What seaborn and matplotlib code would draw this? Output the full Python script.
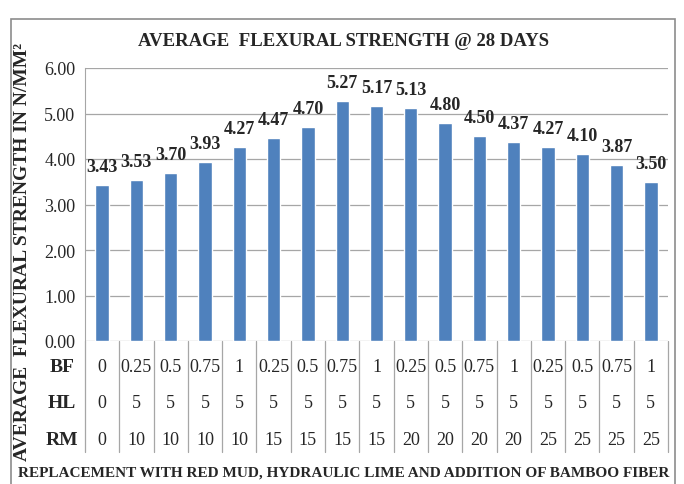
import matplotlib
matplotlib.use("Agg")
import matplotlib.pyplot as plt
import matplotlib.transforms as mtransforms
from matplotlib.patches import Rectangle
import pandas as pd
import seaborn as sns

# Donnees
strength = [3.43, 3.53, 3.70, 3.93, 4.27, 4.47, 4.70, 5.27, 5.17,
            5.13, 4.80, 4.50, 4.37, 4.27, 4.10, 3.87, 3.50]
bf = ["0", "0.25", "0.5", "0.75", "1", "0.25", "0.5", "0.75", "1",
      "0.25", "0.5", "0.75", "1", "0.25", "0.5", "0.75", "1"]
hl = ["0"] + ["5"] * 16
rm = ["0", "10", "10", "10", "10", "15", "15", "15", "15",
      "20", "20", "20", "20", "25", "25", "25", "25"]
yticks = [0, 1, 2, 3, 4, 5, 6]

sns.set_style("white")
plt.rcParams['font.family'] = ['Liberation Serif', 'DejaVu Serif']

df = pd.DataFrame({"mix": range(len(strength)), "strength": strength})

fig = plt.figure(figsize=(6.84, 4.85), dpi=100)
ax = fig.add_axes([85 / 684, 1 - 342 / 485, 583 / 684, 273 / 485])

sns.barplot(data=df, x="mix", y="strength", color="#4F81BD",
            saturation=1, width=0.39, ax=ax)

ax.set_ylim(0, 6)
ax.set_xlim(-0.5, len(strength) - 0.5)
ax.set_yticks(yticks)
ax.set_yticklabels([f"{v:.2f}" for v in yticks], fontsize=13)
ax.set_xticks([])
ax.set_xlabel("")
ax.set_ylabel("")
ax.yaxis.grid(True, color="#A6A6A6", linewidth=0.9)
ax.set_axisbelow(True)
for s in ["top", "right", "bottom"]:
    ax.spines[s].set_visible(False)
ax.spines["left"].set_color("#A6A6A6")
ax.tick_params(axis="y", length=4, color="#A6A6A6", pad=3)

# etiquettes des barres
for i, v in enumerate(strength):
    ax.text(i, v + 0.22, f"{v:.2f}", ha="center", va="bottom",
            fontsize=13, fontweight="bold")

# tableau sous l'axe
trans = mtransforms.blended_transform_factory(ax.transData, ax.transAxes)
for i in range(len(strength) + 1):
    ax.plot([i - 0.5, i - 0.5], [0, -0.407], transform=trans,
            color="#A6A6A6", linewidth=0.9, clip_on=False)
rows = [("BF", bf, -0.092), ("HL", hl, -0.227), ("RM", rm, -0.359)]
for name, vals, yy in rows:
    fig.text(62 / 684, 1 - (342 - yy * 273) / 485, name, ha="center",
             va="center", fontsize=14, fontweight="bold")
    for i, t in enumerate(vals):
        ax.text(i, yy, t, transform=trans, ha="center", va="center",
                fontsize=13, clip_on=False)

fig.text(344 / 684, 1 - 42 / 485, "AVERAGE  FLEXURAL STRENGTH @ 28 DAYS",
         ha="center", va="center", fontsize=13.5, fontweight="bold")
fig.text(23 / 684, 1 - 252 / 485, "AVERAGE  FLEXURAL STRENGTH IN N/MM²",
         ha="center", va="center", rotation=90, fontsize=14,
         fontweight="bold")
fig.text(344 / 684, 1 - 473 / 485,
         "REPLACEMENT WITH RED MUD, HYDRAULIC LIME AND ADDITION OF BAMBOO FIBER",
         ha="center", va="center", fontsize=11, fontweight="bold")

# cadre exterieur
fig.patches.append(Rectangle((11 / 684, -0.01), 664 / 684, 1 - 20 / 485 + 0.01,
                             transform=fig.transFigure, fill=False,
                             edgecolor="#8C8C8C", linewidth=1.2))

plt.savefig("out.png", dpi=100)
